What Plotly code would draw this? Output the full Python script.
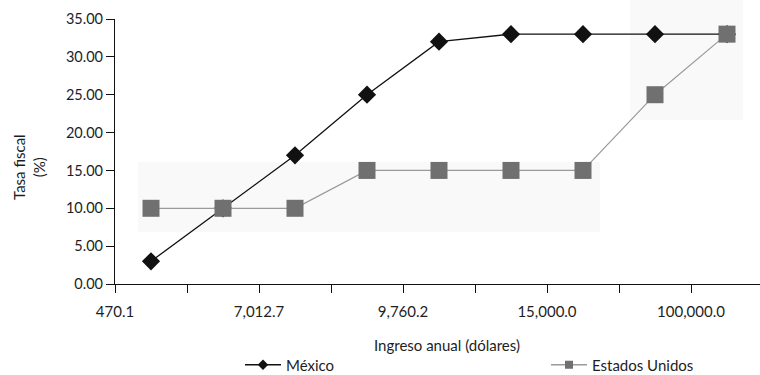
import plotly.graph_objects as go

# Income brackets (annual income, USD) and top marginal tax rates (%)
bracket_pos = [0.5, 1.5, 2.5, 3.5, 4.5, 5.5, 6.5, 7.5, 8.5]
mexico = [3, 10, 17, 25, 32, 33, 33, 33, 33]
usa = [10, 10, 10, 15, 15, 15, 15, 25, 33]

tick_pos = [0, 1, 2, 3, 4, 5, 6, 7, 8, 9]
tick_text = ["470.1", "", "7,012.7", "", "9,760.2", "", "15,000.0", "", "100,000.0", ""]

FONT = "Lato"
INK = "#1e1e1e"
MX_COLOR = "#111111"
US_LINE = "#9a9a9a"
US_MARK = "#707070"

W, H = 760, 375
PLOT_L, PLOT_T, PLOT_W, PLOT_H = 115, 19, 645, 265


def px_x(x):
    return (x - PLOT_L) / PLOT_W


def px_y(y):
    return (PLOT_T + PLOT_H - y) / PLOT_H


fig = go.Figure()

fig.add_trace(go.Scatter(
    x=bracket_pos, y=mexico, name="México", mode="lines+markers",
    line=dict(color=MX_COLOR, width=1.3),
    marker=dict(symbol="diamond", size=14, color=MX_COLOR),
    showlegend=False,
))
fig.add_trace(go.Scatter(
    x=bracket_pos, y=usa, name="Estados Unidos", mode="lines+markers",
    line=dict(color=US_LINE, width=1.2),
    marker=dict(symbol="square", size=17, color=US_MARK),
    showlegend=False,
))

# legend keys with smaller symbols, one legend box per series
fig.add_trace(go.Scatter(
    x=[None], y=[None], name="México", mode="lines+markers",
    line=dict(color=MX_COLOR, width=1.3),
    marker=dict(symbol="diamond", size=8, color=MX_COLOR),
    legend="legend",
))
fig.add_trace(go.Scatter(
    x=[None], y=[None], name="Estados Unidos", mode="lines+markers",
    line=dict(color=US_LINE, width=1.5),
    marker=dict(symbol="square", size=8, color=US_MARK),
    legend="legend2",
))

# faint paper-tone patches behind the plot
fig.add_shape(type="rect", xref="paper", yref="paper",
              x0=px_x(138), x1=px_x(600), y0=px_y(232), y1=px_y(162),
              fillcolor="#f9f9f9", line_width=0, layer="below")
fig.add_shape(type="rect", xref="paper", yref="paper",
              x0=px_x(630), x1=px_x(743), y0=px_y(120), y1=px_y(0),
              fillcolor="#f9f9f9", line_width=0, layer="below")

# axis titles
fig.add_annotation(
    text="Tasa fiscal<br>(%)", textangle=-90, showarrow=False,
    xref="paper", yref="paper", x=px_x(29), y=px_y(167),
    xanchor="center", yanchor="middle",
    font=dict(family=FONT, size=15, color=INK),
)
fig.add_annotation(
    text="Ingreso anual (dólares)", showarrow=False,
    xref="paper", yref="paper", x=px_x(447), y=px_y(345),
    xanchor="center", yanchor="middle",
    font=dict(family=FONT, size=15, color=INK),
)

legend_common = dict(
    orientation="h", xanchor="left", yanchor="middle",
    xref="container", yref="container",
    font=dict(family=FONT, size=15, color=INK),
    bgcolor="rgba(0,0,0,0)", itemwidth=36,
    tracegroupgap=0,
)

fig.update_layout(
    width=W, height=H,
    margin=dict(l=PLOT_L, r=W - PLOT_L - PLOT_W, t=PLOT_T, b=H - PLOT_T - PLOT_H,
                autoexpand=False),
    paper_bgcolor="white", plot_bgcolor="rgba(0,0,0,0)",
    font=dict(family=FONT, size=14, color=INK),
    showlegend=True,
    legend=dict(x=240 / W, y=1 - 365 / H, **legend_common),
    legend2=dict(x=546 / W, y=1 - 365 / H, **legend_common),
    xaxis=dict(
        range=[0, PLOT_W / 72], tickmode="array", tickvals=tick_pos, ticktext=tick_text,
        showgrid=False, zeroline=False, showline=True, linecolor="#111111", linewidth=1.2,
        ticks="outside", ticklen=8, tickcolor="#111111", tickwidth=1.2,
        ticklabelstandoff=6, automargin=False,
        tickfont=dict(family=FONT, size=15, color=INK),
        fixedrange=True,
    ),
    yaxis=dict(
        range=[0, 35], tickmode="linear", tick0=0, dtick=5, tickformat=".2f",
        showgrid=False, zeroline=False, showline=True, linecolor="#111111", linewidth=1.2,
        ticks="outside", ticklen=8, tickcolor="#111111", tickwidth=1.2,
        automargin=False,
        tickfont=dict(family=FONT, size=14.5, color=INK),
        fixedrange=True,
    ),
)

fig.write_html("out.html")
